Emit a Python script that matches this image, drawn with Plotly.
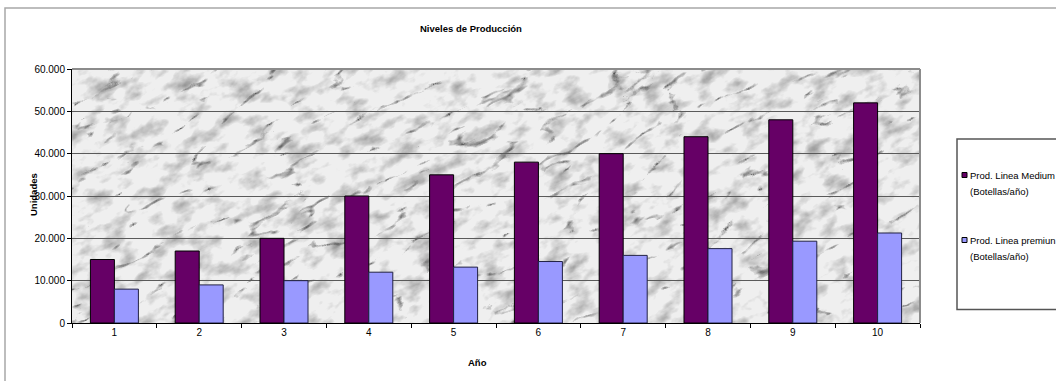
import base64
import plotly.graph_objects as go

# ---- data ----
years = ["1", "2", "3", "4", "5", "6", "7", "8", "9", "10"]
medium = [15000, 17000, 20000, 30000, 35000, 38000, 40000, 44000, 48000, 52000]
premium = [8000, 9000, 10000, 12000, 13200, 14520, 15972, 17569, 19326, 21259]
series_names = ["Prod. Linea Medium", "Prod. Linea premiun"]
series_unit = "(Botellas/año)"
y_ticks = [0, 10000, 20000, 30000, 40000, 50000, 60000]
title_text = "Niveles de Producción"
x_title = "Año"
y_title = "Unidades"

# ---- layout geometry (pixels) ----
W, H = 1056, 381
L, R, T, B = 72, 920, 69, 323
PW, PH = R - L, B - T


def px(x):
    return (x - L) / PW


def py(y):
    return (B - y) / PH


colors = ["#660066", "#9999FF"]
lines = ["#000000", "#222244"]

fig = go.Figure()
for name, vals, c, lc in zip(series_names, [medium, premium], colors, lines):
    fig.add_trace(go.Bar(
        x=years, y=vals, name=name,
        marker=dict(color=c, line=dict(color=lc, width=1)),
        showlegend=False,
    ))

# marble-like background via SVG turbulence
svg = f"""<svg xmlns='http://www.w3.org/2000/svg' width='{PW}' height='{PH}'>
<defs>
<filter id='v' x='0' y='0' width='100%' height='100%'>
<feTurbulence type='turbulence' baseFrequency='0.012 0.03' numOctaves='4' seed='11' result='n'/>
<feColorMatrix in='n' type='matrix' values='0 0 0 0 0  0 0 0 0 0  0 0 0 0 0  -4.5 0 0 0 0.6'/>
</filter>
<filter id='m' x='0' y='0' width='100%' height='100%'>
<feTurbulence type='fractalNoise' baseFrequency='0.04 0.07' numOctaves='4' seed='4' result='n'/>
<feColorMatrix in='n' type='matrix' values='0 0 0 0 0  0 0 0 0 0  0 0 0 0 0  -0.8 0 0 0 0.42'/>
</filter>
</defs>
<rect width='100%' height='100%' fill='#efefef'/>
<g transform='rotate(-25 {PW/2} {PH/2})'>
<rect x='-300' y='-500' width='{PW+600}' height='{PH+1000}' fill='#b0b0b0' filter='url(#m)'/>
<rect x='-300' y='-500' width='{PW+600}' height='{PH+1000}' fill='#8a8a8a' filter='url(#v)'/>
</g>
</svg>"""
src = "data:image/svg+xml;base64," + base64.b64encode(svg.encode()).decode()

font = "Liberation Sans, Arial, sans-serif"

fig.update_layout(
    width=W, height=H,
    margin=dict(l=L, r=W - R, t=T, b=H - B, pad=0),
    paper_bgcolor="white",
    plot_bgcolor="#e4e4e4",
    separators=",.",
    barmode="group",
    bargap=0.434,
    bargroupgap=0,
    font=dict(family=font, size=10, color="black"),
    images=[dict(source=src, xref="paper", yref="paper", x=0, y=1,
                 sizex=1, sizey=1, sizing="stretch", layer="below")],
    xaxis=dict(
        type="category",
        showline=True, linecolor="black", linewidth=1,
        ticks="outside", tickson="boundaries", ticklen=4, tickcolor="black",
        showgrid=False, tickfont=dict(size=10),
    ),
    yaxis=dict(
        range=[0, 60000], tickvals=y_ticks, tickformat=",d",
        showline=True, linecolor="black", linewidth=1,
        ticks="outside", ticklen=4, tickcolor="black",
        showgrid=True, gridcolor="#5a5a5a", gridwidth=1,
        zeroline=False, tickfont=dict(size=10),
    ),
)

shapes = []
# plot frame: top and right grey
shapes.append(dict(type="line", xref="paper", yref="paper", x0=0, x1=1, y0=1, y1=1,
                   line=dict(color="#8c8c8c", width=2)))
shapes.append(dict(type="line", xref="paper", yref="paper", x0=1, x1=1, y0=0, y1=1,
                   line=dict(color="#8c8c8c", width=2)))
# outer chart border
shapes.append(dict(type="rect", xref="paper", yref="paper",
                   x0=px(5), x1=px(1070), y0=py(8), y1=py(400),
                   line=dict(color="#a8a8a8", width=1.5), layer="below"))
# legend box
shapes.append(dict(type="rect", xref="paper", yref="paper",
                   x0=px(957), x1=px(1070), y0=py(139), y1=py(309.5),
                   line=dict(color="#555555", width=1.5)))
ann = []
leg_y = [175, 240]
for name, c, lc, yy in zip(series_names, colors, lines, leg_y):
    shapes.append(dict(type="rect", xref="paper", yref="paper",
                       x0=px(962), x1=px(967), y0=py(yy - 2.5), y1=py(yy + 2.5),
                       fillcolor=c, line=dict(color="black", width=1)))
    ann.append(dict(text=name, xref="paper", yref="paper", x=px(968), y=py(yy),
                    xanchor="left", yanchor="middle", showarrow=False,
                    font=dict(size=9.5, family=font)))
    ann.append(dict(text=series_unit, xref="paper", yref="paper", x=px(968), y=py(yy + 16),
                    xanchor="left", yanchor="middle", showarrow=False,
                    font=dict(size=9.5, family=font)))

ann.append(dict(text="<b>" + title_text + "</b>", xref="paper", yref="paper",
                x=px(471), y=py(28), xanchor="center", yanchor="middle",
                showarrow=False, font=dict(size=9.5, family=font)))
ann.append(dict(text="<b>" + x_title + "</b>", xref="paper", yref="paper",
                x=px(477), y=py(362), xanchor="center", yanchor="middle",
                showarrow=False, font=dict(size=9.5, family=font)))
ann.append(dict(text="<b>" + y_title + "</b>", xref="paper", yref="paper",
                x=px(33), y=py(195), xanchor="center", yanchor="middle",
                textangle=-90, showarrow=False, font=dict(size=9.5, family=font)))

fig.update_layout(shapes=shapes, annotations=ann)
fig.write_html("out.html", config={"displayModeBar": False},
               post_script="document.body.style.margin='0';")
